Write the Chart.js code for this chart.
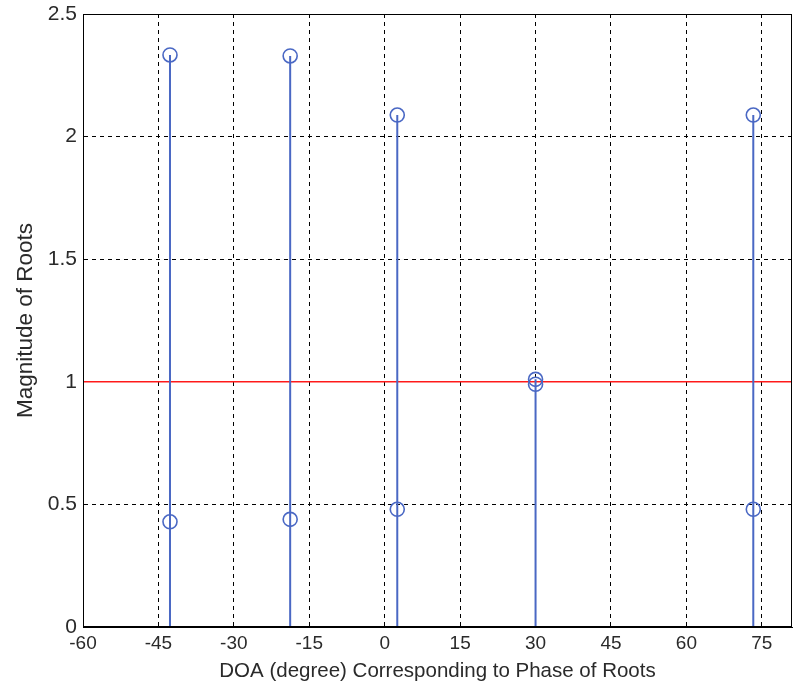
<!DOCTYPE html>
<html>
<head>
<meta charset="utf-8">
<script src="https://cdn.jsdelivr.net/npm/chart.js@4/dist/chart.umd.min.js"></script>
<style>
  html, body { margin: 0; padding: 0; background: #ffffff; }
  #wrap { width: 793px; height: 696px; position: relative; }
</style>
</head>
<body>
<div id="wrap"><canvas id="c" width="793" height="696"></canvas></div>
<script>
// ---- data ----
const doaDegrees = [-42.7, -42.7, -18.8, -18.8, 2.5, 2.5, 30.0, 30.0, 73.3, 73.3];
const rootMagnitudes = [2.333, 0.429, 2.329, 0.439, 2.088, 0.480, 1.010, 0.990, 2.088, 0.480];
const unitCircleLevel = 1;
const xRange = [-60, 81];
const yRange = [0, 2.5];
const xTickStep = 15;
const yTickStep = 0.5;
const xTitle = 'DOA (degree) Corresponding to Phase of Roots';
const yTitle = 'Magnitude of Roots';

// stems: from 0 up to each magnitude, separated by gaps
const stemPoints = [];
doaDegrees.forEach((d, i) => {
  stemPoints.push({ x: d, y: 0 });
  stemPoints.push({ x: d, y: rootMagnitudes[i] });
  stemPoints.push({ x: d, y: null });
});
const markerPoints = doaDegrees.map((d, i) => ({ x: d, y: rootMagnitudes[i] }));
const refLine = [{ x: xRange[0], y: unitCircleLevel }, { x: xRange[1], y: unitCircleLevel }];

const boxPlugin = {
  id: 'box',
  afterDraw(chart) {
    const { ctx, chartArea: a } = chart;
    ctx.save();
    ctx.strokeStyle = '#000';
    ctx.lineWidth = 1;
    ctx.setLineDash([]);
    ctx.strokeRect(Math.round(a.left) + 0.5, Math.round(a.top) + 0.5,
                   Math.round(a.right - a.left) - 1, Math.round(a.bottom - a.top) - 1);
    ctx.restore();
  }
};

const textColor = '#2a2a2a';
const stemColor = '#4a68c4';
const regular = "'Liberation Sans', Arial, sans-serif";

new Chart(document.getElementById('c'), {
  type: 'scatter',
  data: {
    datasets: [
      {
        type: 'line',
        data: refLine,
        borderColor: '#ff1a1a',
        borderWidth: 1.5,
        pointRadius: 0,
        order: 3
      },
      {
        type: 'line',
        data: stemPoints,
        borderColor: stemColor,
        borderWidth: 2,
        pointRadius: 0,
        spanGaps: false,
        order: 2
      },
      {
        type: 'scatter',
        data: markerPoints,
        pointStyle: 'circle',
        pointRadius: 7,
        pointBorderWidth: 1.6,
        pointBorderColor: stemColor,
        pointBackgroundColor: 'rgba(0,0,0,0)',
        order: 1
      }
    ]
  },
  options: {
    responsive: false,
    animation: false,
    devicePixelRatio: 1,
    layout: { autoPadding: false, padding: { top: 14, right: 1, left: 0, bottom: 0 } },
    plugins: {
      legend: { display: false },
      tooltip: { enabled: false }
    },
    scales: {
      x: {
        type: 'linear',
        min: xRange[0],
        max: xRange[1],
        afterFit(s) { s.height = 69; },
        ticks: {
          stepSize: xTickStep,
          includeBounds: false,
          color: textColor,
          font: { family: regular, size: 19 },
          padding: 5,
          maxRotation: 0
        },
        grid: { color: '#000', lineWidth: 1, drawTicks: false },
        border: { color: '#000', width: 1, dash: [4, 4] },
        title: {
          display: true,
          text: xTitle,
          color: textColor,
          font: { family: regular, size: 20.5 },
          padding: { top: 0, bottom: 12 }
        }
      },
      y: {
        type: 'linear',
        min: yRange[0],
        max: yRange[1],
        afterFit(s) { s.width = 83; },
        ticks: {
          stepSize: yTickStep,
          color: textColor,
          font: { family: regular, size: 21, lineHeight: 0.76 },
          padding: 6,
          callback: v => String(v)
        },
        grid: { color: '#000', lineWidth: 1, drawTicks: false },
        border: { color: '#000', width: 1, dash: [4, 4] },
        title: {
          display: true,
          text: yTitle,
          color: textColor,
          font: { family: regular, size: 22.5 },
          padding: { top: 12, bottom: 4 }
        }
      }
    }
  },
  plugins: [boxPlugin]
});
</script>
</body>
</html>
